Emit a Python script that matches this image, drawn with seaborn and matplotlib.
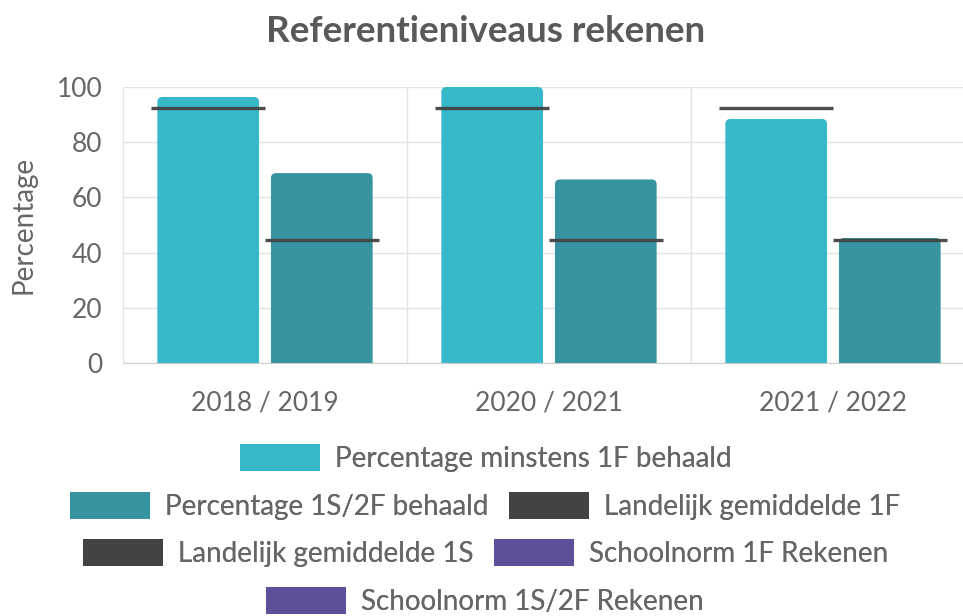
import matplotlib
matplotlib.use("Agg")
import matplotlib.pyplot as plt
from matplotlib.patches import FancyBboxPatch, Patch
import seaborn as sns
import pandas as pd

# --- DATA ---
YEARS = ["2018 / 2019", "2020 / 2021", "2021 / 2022"]
PCT_1F = [96.4, 100.0, 88.4]
PCT_1S2F = [68.8, 66.5, 45.3]
LANDELIJK_1F = [92.5, 92.5, 92.5]
LANDELIJK_1S = [44.6, 44.6, 44.6]

SERIES = ["Percentage minstens 1F behaald", "Percentage 1S/2F behaald"]
LEGEND_ROWS = [
    ["Percentage minstens 1F behaald"],
    ["Percentage 1S/2F behaald", "Landelijk gemiddelde 1F"],
    ["Landelijk gemiddelde 1S", "Schoolnorm 1F Rekenen"],
    ["Schoolnorm 1S/2F Rekenen"],
]
COLORS = {
    "Percentage minstens 1F behaald": "#37b8c9",
    "Percentage 1S/2F behaald": "#3793a0",
    "Landelijk gemiddelde 1F": "#434343",
    "Landelijk gemiddelde 1S": "#434343",
    "Schoolnorm 1F Rekenen": "#5f4f9b",
    "Schoolnorm 1S/2F Rekenen": "#5f4f9b",
}
TEXT = "#666666"
GRID = "#e3e3e3"

df = pd.DataFrame({
    "jaar": YEARS * 2,
    "serie": [SERIES[0]] * 3 + [SERIES[1]] * 3,
    "pct": PCT_1F + PCT_1S2F,
})

sns.set_style("white")
plt.rcParams["font.family"] = ["Lato", "DejaVu Sans"]

fig = plt.figure(figsize=(9.63, 6.16), dpi=100)
ax = fig.add_axes([123 / 963, 1 - 363 / 616, 852 / 963, 276 / 616])

GAP = 0.105
sns.barplot(data=df, x="jaar", y="pct", hue="serie", hue_order=SERIES,
            palette=COLORS, width=0.8, gap=GAP, legend=False,
            saturation=1, ax=ax)

# rounded tops: swap the bars for rounded boxes (bottom goes under axis, clipped)
r_x, r_y = 0.018, 1.8
for cont in ax.containers:
    for p in cont.patches:
        x, w, h = p.get_x(), p.get_width(), p.get_height()
        fc = p.get_facecolor()
        p.set_visible(False)
        box = FancyBboxPatch((x, -r_y), w, h + r_y,
                             boxstyle=f"round,pad=0,rounding_size={r_x}",
                             mutation_aspect=r_y / r_x, facecolor=fc,
                             edgecolor="none", zorder=2)
        ax.add_patch(box)

# national averages as lines over each hue slot
for cont, vals in zip(ax.containers, [LANDELIJK_1F, LANDELIJK_1S]):
    for p, v in zip(cont.patches, vals):
        c = p.get_x() + p.get_width() / 2
        half = p.get_width() / (1 - GAP) / 2
        ax.hlines(v, c - half, c + half, color="#434343", lw=2.4,
                  alpha=0.95, zorder=3)

ax.set_ylim(0, 100)
ax.set_xlim(-0.5, 2.5)
ax.set_yticks(range(0, 101, 20))
ax.set_xticks([0, 1, 2])
ax.set_xticks([-0.5, 0.5, 1.5, 2.5], minor=True)
ax.grid(axis="y", color=GRID, lw=1, zorder=0)
ax.grid(axis="x", which="minor", color=GRID, lw=1, zorder=0)
ax.set_axisbelow(True)
for s in ["top", "right", "left"]:
    ax.spines[s].set_visible(False)
ax.spines["bottom"].set_color("#cfcfcf")
ax.tick_params(axis="y", length=11, color=GRID, labelsize=19,
               labelcolor=TEXT, pad=4)
ax.tick_params(axis="x", which="major", length=0, labelsize=19,
               labelcolor=TEXT, pad=20)
ax.tick_params(axis="x", which="minor", length=11, color=GRID)
ax.set_xlabel("")
ax.set_ylabel("Percentage", fontsize=20, color=TEXT, labelpad=14)

fig.text(0.504, 1 - 32 / 616, "Referentieniveaus rekenen", ha="center",
         va="center", fontsize=26.5, fontweight="bold", color="#595959")

# legend: four centred rows
row_y = [1 - 458 / 616, 1 - 506 / 616, 1 - 553 / 616, 1 - 601 / 616]
for names, y in zip(LEGEND_ROWS, row_y):
    handles = [Patch(facecolor=COLORS[n], edgecolor="none") for n in names]
    leg = fig.legend(handles, names, loc="center", bbox_to_anchor=(0.504, y),
                     ncol=len(names), frameon=False, fontsize=20,
                     handlelength=2.88, handleheight=1.15, handletextpad=0.54,
                     columnspacing=0.75, borderpad=0, borderaxespad=0)
    for t in leg.get_texts():
        t.set_color(TEXT)
    fig.add_artist(leg)

fig.savefig("out.png", dpi=100)
